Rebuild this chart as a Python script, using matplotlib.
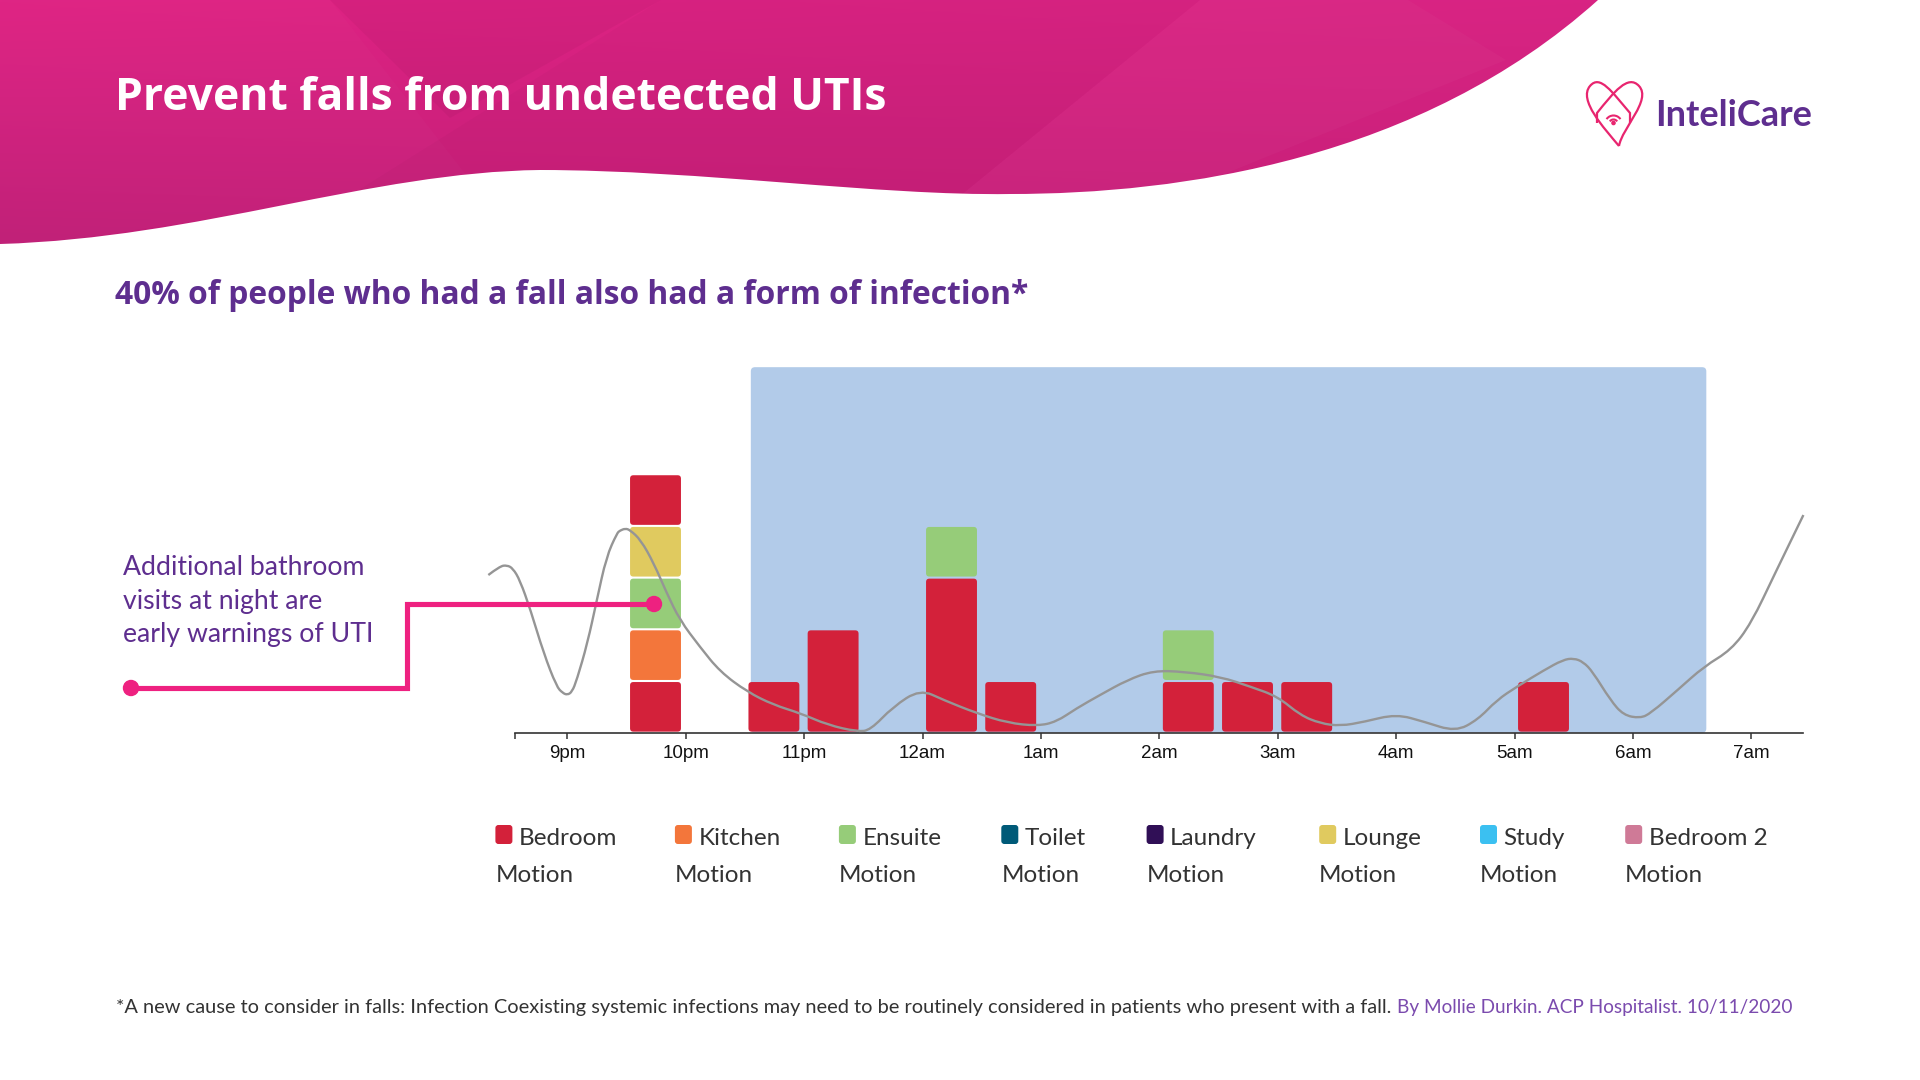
import numpy as np
import matplotlib
matplotlib.use("Agg")
import matplotlib.pyplot as plt
from matplotlib.patches import FancyBboxPatch, PathPatch, Circle, Arc, Polygon
from matplotlib.path import Path

# x positions are hours after 9pm
tick_hours = list(range(11))
tick_labels = ["9pm", "10pm", "11pm", "12am", "1am", "2am", "3am", "4am", "5am", "6am", "7am"]

# half-hour bins with motion events, stacked bottom to top as (room, count)
bin_start = [0.5, 1.5, 2.0, 3.0, 3.5, 5.0, 5.5, 6.0, 8.0]
bin_stacks = [
    [("Bedroom", 1), ("Kitchen", 1), ("Ensuite", 1), ("Lounge", 1), ("Bedroom", 1)],
    [("Bedroom", 1)],
    [("Bedroom", 2)],
    [("Bedroom", 3), ("Ensuite", 1)],
    [("Bedroom", 1)],
    [("Bedroom", 1), ("Ensuite", 1)],
    [("Bedroom", 1)],
    [("Bedroom", 1)],
    [("Bedroom", 1)],
]

rooms = ["Bedroom", "Kitchen", "Ensuite", "Toilet", "Laundry", "Lounge", "Study", "Bedroom 2"]
room_colors = ["#D3213A", "#F3763B", "#96CC79", "#005A78", "#300F56", "#E0CA5F", "#3BC0F1", "#CF7A97"]

# shaded sleep window
night_start, night_end, night_top = 1.55, 9.62, 7.07

# activity trend line
trend_hours = [-0.667, -0.57, -0.51, -0.46, -0.40, -0.31, -0.20, -0.09, -0.04, 0.0, 0.04, 0.08,
               0.17, 0.25, 0.33, 0.42, 0.445, 0.49, 0.53, 0.62, 0.73, 0.84, 0.95, 1.12, 1.29,
               1.52, 1.74, 1.97, 2.20, 2.45, 2.56, 2.75, 2.98, 3.18, 3.46, 3.72, 3.97, 4.13,
               4.30, 4.50, 4.73, 4.95, 5.21, 5.52, 5.77, 6.0, 6.19, 6.36, 6.53, 6.73, 7.0,
               7.24, 7.5, 7.69, 7.85, 8.02, 8.25, 8.41, 8.50, 8.58, 8.66, 8.81, 8.92, 9.06,
               9.15, 9.38, 9.60, 9.83, 10.0, 10.2, 10.44]
trend_values = [3.05, 3.22, 3.24, 3.18, 2.95, 2.37, 1.54, 0.89, 0.77, 0.73, 0.79, 1.02,
                1.73, 2.57, 3.40, 3.86, 3.91, 3.95, 3.92, 3.73, 3.28, 2.70, 2.18, 1.66, 1.18,
                0.79, 0.54, 0.375, 0.15, 0.02, 0.05, 0.50, 0.84, 0.63, 0.375, 0.19, 0.13, 0.21,
                0.47, 0.73, 1.02, 1.20, 1.18, 1.08, 0.89, 0.70, 0.34, 0.18, 0.13, 0.21, 0.36,
                0.21, 0.02, 0.25, 0.63, 0.89, 1.21, 1.41, 1.44, 1.37, 1.18, 0.63, 0.34, 0.28,
                0.375, 0.83, 1.28, 1.60, 2.12, 3.08, 4.21]

title = "Prevent falls from undetected UTIs"
subtitle = "40% of people who had a fall also had a form of infection*"
note_lines = ["Additional bathroom", "visits at night are", "early warnings of UTI"]
footnote = ("*A new cause to consider in falls: Infection Coexisting systemic infections may need "
            "to be routinely considered in patients who present with a fall.")
citation = "By Mollie Durkin. ACP Hospitalist. 10/11/2020"

PINK = "#EE2180"
PURPLE = "#5E2E8F"
BODY = "Lato"

fig = plt.figure(figsize=(19.2, 10.8), dpi=100)
fig.patch.set_facecolor("white")

# ---- page layer (pixel coordinates, y down)
bg = fig.add_axes([0, 0, 1, 1], zorder=0)
bg.set_xlim(0, 1920)
bg.set_ylim(1080, 0)
bg.axis("off")

verts = [(0, 0), (1598, 0),
         (1420, 160), (1180, 194), (1010, 194),
         (880, 196), (700, 170), (540, 170),
         (370, 172), (200, 238), (0, 244),
         (0, 0)]
codes = [Path.MOVETO, Path.LINETO,
         Path.CURVE4, Path.CURVE4, Path.CURVE4,
         Path.CURVE4, Path.CURVE4, Path.CURVE4,
         Path.CURVE4, Path.CURVE4, Path.CURVE4,
         Path.CLOSEPOLY]
header = PathPatch(Path(verts, codes), facecolor="none", edgecolor="none")
bg.add_patch(header)

gx, gy = np.meshgrid(np.linspace(0, 1, 320), np.linspace(0, 1, 60))
c_tl = np.array([223, 34, 131]) / 255
c_tr = np.array([216, 36, 131]) / 255
c_bl = np.array([192, 30, 118]) / 255
c_br = np.array([198, 31, 120]) / 255
grad = (c_tl * ((1 - gx) * (1 - gy))[..., None] + c_tr * (gx * (1 - gy))[..., None]
        + c_bl * ((1 - gx) * gy)[..., None] + c_br * (gx * gy)[..., None])
img = bg.imshow(grad, extent=(0, 1600, 250, 0), aspect="auto", zorder=1, interpolation="bilinear")
img.set_clip_path(header)

facets = [
    ([(330, 0), (661, 0), (450, 118)], "black", 0.035),
    ([(0, 0), (330, 0), (470, 180), (0, 250)], "white", 0.015),
    ([(661, 0), (1200, 0), (955, 200), (343, 200)], "black", 0.02),
    ([(1200, 0), (1408, 0), (1506, 60), (1160, 200), (955, 200)], "white", 0.025),
    ([(320, 250), (470, 175), (343, 200)], "white", 0.035),
]
for pts, col, a in facets:
    f = Polygon(pts, closed=True, facecolor=col, edgecolor="none", alpha=a, zorder=2)
    bg.add_patch(f)
    f.set_clip_path(header)

bg.text(115, 110, title, color="white", fontsize=32, fontweight="bold", family="Open Sans",
        va="baseline", ha="left", zorder=5)
bg.text(115, 304, subtitle, color=PURPLE, fontsize=22.9, fontweight="bold", family="Open Sans",
        va="baseline", ha="left")

# logo
heart_a = Path([(1619, 146), (1604, 128), (1578, 100), (1590, 86),
                (1600, 74), (1612, 92), (1630, 113), (1630, 123)],
               [Path.MOVETO, Path.CURVE4, Path.CURVE4, Path.CURVE4,
                Path.CURVE4, Path.CURVE4, Path.CURVE4, Path.LINETO])
heart_b = Path([(1619, 146), (1622, 128), (1652, 100), (1639, 86),
                (1628, 74), (1614, 92), (1597, 113), (1597, 123)],
               [Path.MOVETO, Path.CURVE4, Path.CURVE4, Path.CURVE4,
                Path.CURVE4, Path.CURVE4, Path.CURVE4, Path.LINETO])
for hp in (heart_a, heart_b):
    bg.add_patch(PathPatch(hp, facecolor="none", edgecolor="#E8256F", lw=1.6, zorder=5))
for rad in (4.5, 8.5):
    bg.add_patch(Arc((1613.5, 124), 2 * rad, 2 * rad, theta1=215, theta2=325,
                     color="#E8256F", lw=1.5, zorder=5))
bg.add_patch(Circle((1613.5, 123), 1.6, color="#E8256F", zorder=5))
bg.text(1655, 126, "InteliCare", color=PURPLE, fontsize=26, fontweight="bold", family=BODY,
        va="baseline", ha="left")

# annotation text
for i, line in enumerate(note_lines):
    bg.text(123, 575 + 33.5 * i, line, color=PURPLE, fontsize=19.2, family=BODY,
            va="baseline", ha="left")

# legend
legend_x = [495.4, 674.9, 838.9, 1001.3, 1146.6, 1319.2, 1480.0, 1625.2]
for lx, room, col in zip(legend_x, rooms, room_colors):
    bg.add_patch(FancyBboxPatch((lx, 825), 17, 19, boxstyle="round,pad=0,rounding_size=3",
                                facecolor=col, edgecolor="none"))
    bg.text(lx + 23.5, 845, room, color="#333333", fontsize=17.5, family=BODY, va="baseline")
    bg.text(lx, 882, "Motion", color="#333333", fontsize=17.5, family=BODY, va="baseline")

# footnote
fn = bg.text(116.5, 1013, footnote, color="#333333", fontsize=14.4, family=BODY,
             va="baseline", ha="left")
bg.annotate(citation, xy=(1, 0), xycoords=fn, xytext=(4, 0), textcoords="offset points",
            color="#7B4BAE", fontsize=13.7, family=BODY, va="bottom", ha="left")

# ---- chart
x_px0, hour_px = 567.3, 118.4
base_px, unit_px = 732.7, 51.7
xmin, xmax, ymax = -0.7, 10.5, 7.2
ax = fig.add_axes([(x_px0 + xmin * hour_px) / 1920, (1080 - base_px) / 1080,
                   (xmax - xmin) * hour_px / 1920, ymax * unit_px / 1080], zorder=1)
ax.set_xlim(xmin, xmax)
ax.set_ylim(0, ymax)
ax.patch.set_alpha(0)
aspect = hour_px / unit_px

ax.add_patch(FancyBboxPatch((night_start, 0), night_end - night_start, night_top,
                            boxstyle="round,pad=0,rounding_size=0.035", mutation_aspect=aspect,
                            facecolor="#B2CBE9", edgecolor="none", zorder=0))

room_color = dict(zip(rooms, room_colors))
for start, stack in zip(bin_start, bin_stacks):
    y0 = 0
    for room, n in stack:
        ax.add_patch(FancyBboxPatch((start + 0.03, y0 + 0.02), 0.43, n - 0.04,
                                    boxstyle="round,pad=0,rounding_size=0.028",
                                    mutation_aspect=aspect, facecolor=room_color[room],
                                    edgecolor="none", zorder=2))
        y0 += n

# smooth the trend with quadratic segments through the midpoints of the read points
pts = np.column_stack([trend_hours, trend_values])
mids = (pts[1:] + pts[:-1]) / 2
tv = [pts[0]]
tc = [Path.MOVETO]
for i in range(1, len(pts) - 1):
    tv += [pts[i], mids[i]]
    tc += [Path.CURVE3, Path.CURVE3]
tv.append(pts[-1])
tc.append(Path.LINETO)
ax.add_patch(PathPatch(Path(tv, tc), facecolor="none", edgecolor="#959595", lw=1.7,
                       zorder=3, clip_on=False))

for side in ("left", "right", "top"):
    ax.spines[side].set_visible(False)
ax.spines["bottom"].set_bounds(-0.445, 10.435)
ax.spines["bottom"].set_color("#333333")
ax.spines["bottom"].set_linewidth(1.2)
ax.set_yticks([])
ax.set_xticks(tick_hours)
ax.set_xticklabels(tick_labels, family="Liberation Sans", fontsize=13.5, color="#111111")
ax.set_xticks([-0.445], minor=True)
ax.tick_params(axis="x", which="both", length=4.5, width=1.1, color="#333333", pad=4.5)

# ---- connector on top
top = fig.add_axes([0, 0, 1, 1], zorder=4)
top.set_xlim(0, 1920)
top.set_ylim(1080, 0)
top.axis("off")
top.plot([131, 406.5, 406.5, 654], [688, 688, 604, 604], color=PINK, lw=3.7,
         solid_joinstyle="miter")
top.add_patch(Circle((131, 688), 7.5, color=PINK))
top.add_patch(Circle((654, 604), 7.5, color=PINK))

fig.savefig("out.png", dpi=100)
